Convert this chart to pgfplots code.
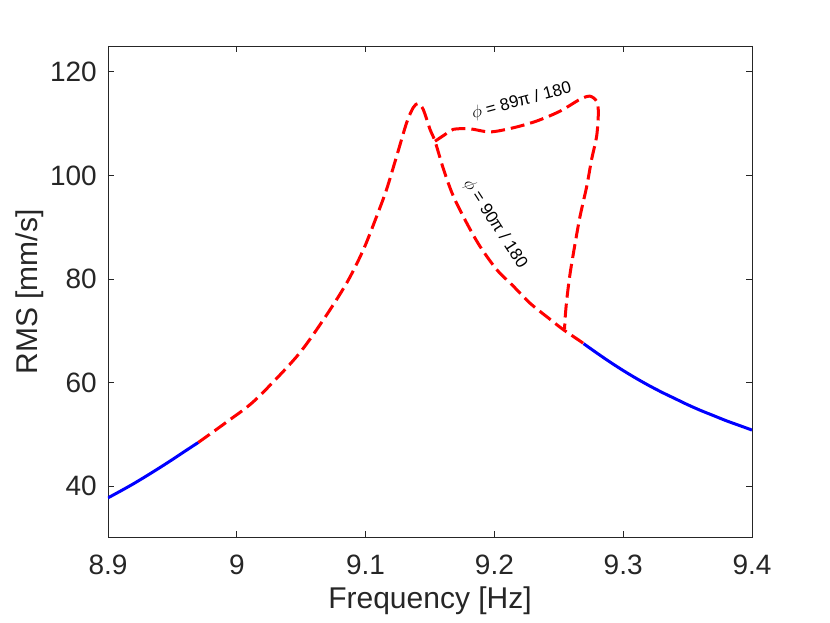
\documentclass[border=0pt]{standalone}
\usepackage{pgfplots}
\pgfplotsset{compat=1.18}
\usepackage{fontspec}
\setmainfont{Liberation Sans}
\definecolor{axgray}{rgb}{0.15,0.15,0.15}
\begin{document}
\begin{tikzpicture}
\path[use as bounding box] (-108bp,-85.3bp) rectangle (722bp,537.7bp);
\begin{axis}[
  at={(0,0)}, anchor=south west,
  scale only axis, width=644bp, height=491.7bp,
  xmin=8.9, xmax=9.4, ymin=30, ymax=125,
  xtick={8.9,9,9.1,9.2,9.3,9.4},
  xticklabels={8.9,9,9.1,9.2,9.3,9.4},
  ytick={40,60,80,100,120},
  yticklabels={40,60,80,100,120},
  tick align=inside,
  major tick length=6.4bp,
  axis line style={axgray, line width=0.8bp},
  every tick/.style={axgray, line width=0.8bp},
  /pgf/number format/assume math mode=true,
  tick label style={font=\fontsize{28bp}{30bp}\selectfont, text=axgray, inner sep=0pt},
  xticklabel style={anchor=base, yshift=-37bp},
  yticklabel style={anchor=east, xshift=-11bp},
  xlabel={Frequency [Hz]},
  ylabel={RMS [mm/s]},
  label style={font=\fontsize{30bp}{32bp}\selectfont, text=axgray, inner sep=0pt},
  xlabel style={at={(axis description cs:0.5,-0.1444)}, anchor=base},
  ylabel style={at={(axis description cs:-0.1102,0.5)}, anchor=base, rotate=0},
  clip=true,
]
% blue stable segments
\addplot[blue, line width=3bp, smooth] coordinates {
(8.900,37.7) (8.910,39.05) (8.920,40.45) (8.930,41.95) (8.940,43.5)
(8.950,45.1) (8.960,46.75) (8.9701,48.4)
};
\addplot[blue, line width=3bp, smooth] coordinates {
(9.2692,67.5) (9.280,65.6) (9.290,63.9) (9.300,62.3) (9.310,60.8) (9.320,59.4)
(9.330,58.1) (9.340,56.9) (9.350,55.7) (9.360,54.6) (9.370,53.6) (9.380,52.6)
(9.390,51.7) (9.400,50.8)
};
% phi = 90 pi/180 branch (red dashed)
\addplot[red, line width=3bp, dash pattern=on 14bp off 6bp, smooth, tension=0.5] coordinates {
(8.9701,48.4) (8.9924,52.4) (9.0143,56.6) (9.0465,65.0) (9.0672,72.1)
(9.0853,79.2) (9.0982,85.6) (9.1086,92.1) (9.1163,97.3) (9.1241,103.7)
(9.1319,110.2) (9.1370,113.1) (9.1409,113.9) (9.1448,112.7) (9.1500,108.9)
(9.1539,106.6) (9.1606,101.1) (9.1681,96.0) (9.1785,90.8) (9.1888,86.3)
(9.2018,81.8) (9.2147,78.6) (9.2277,75.3) (9.2432,72.2) (9.2535,70.2)
(9.2665,68.0) (9.2692,67.5)
};
% phi = 89 pi/180 branch (red dashed loop)
\addplot[red, line width=3bp, dash pattern=on 14bp off 6bp, smooth, tension=0.5] coordinates {
(9.1539,106.6) (9.1617,107.9) (9.1681,108.9) (9.1810,109.0) (9.1966,108.4)
(9.2147,109.2) (9.2328,110.5) (9.2509,112.4) (9.2665,114.7) (9.2742,115.3)
(9.2794,114.3) (9.2807,112.1) (9.2794,107.6) (9.2755,103.1) (9.2717,97.9)
(9.2665,92.1) (9.2627,86.9) (9.2588,81.1) (9.2562,76.0) (9.2549,72.4)
(9.2545,70.3)
};
\node[rotate=15, font=\fontsize{17bp}{19bp}\selectfont] at (axis cs:9.2212,114.3)
  {$\phi$ = 89π / 180};
\node[rotate=-57, font=\fontsize{17bp}{19bp}\selectfont] at (axis cs:9.2005,90.6)
  {$\phi$ = 90π / 180};
\end{axis}
\end{tikzpicture}
\end{document}
